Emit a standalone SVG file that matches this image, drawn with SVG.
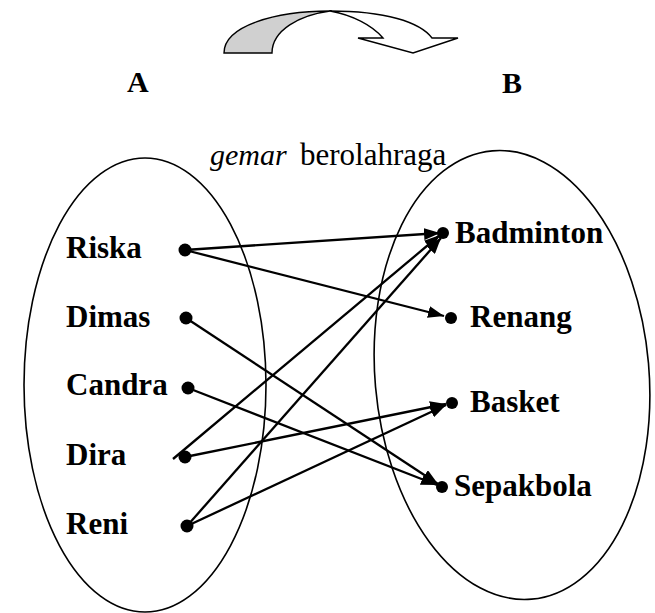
<svg xmlns="http://www.w3.org/2000/svg" width="655" height="613" viewBox="0 0 655 613">
<style>
text{font-family:'Liberation Serif',serif;font-size:30px;fill:#000}
.lbl{font-weight:bold;font-size:31px}
.set{fill:none;stroke:#000;stroke-width:1.6}
.dot{fill:#000}
.con{stroke:#000;stroke-width:2.3;fill:none;marker-end:url(#ah)}
</style>
<defs>
<marker id="ah" markerUnits="userSpaceOnUse" markerWidth="18" markerHeight="12" refX="16" refY="6" orient="auto">
<path d="M0,0 L16,6 L0,12 z" fill="#000"/>
</marker>
</defs>
<rect width="655" height="613" fill="#fff"/>
<g id="curved-arrow">
<path d="M224,53 C224,26 275,11 330,11 C300,15 272,30 272,53 Z" fill="#d0d0d0" stroke="#000" stroke-width="1.4"/>
<path d="M330,11 C385,11 420,22 432,38 L458,38 L413,53 L358,38 L383,38 C372,25 352,15 330,11 Z" fill="#fff" stroke="#000" stroke-width="1.4"/>
</g>
<g id="set-A">
<ellipse class="set" cx="145" cy="385" rx="121" ry="227"/>
<text class="lbl" x="127" y="92" style="font-size:30px">A</text>
</g>
<g id="set-B">
<ellipse class="set" cx="512" cy="375" rx="137" ry="225" transform="rotate(-5 512 375)"/>
<text class="lbl" x="502" y="93" style="font-size:30px">B</text>
</g>
<g id="relation-label">
<text x="210" y="165"><tspan font-style="italic">gemar</tspan><tspan x="300" style="font-size:31px">berolahraga</tspan></text>
</g>
<g id="node-riska"><text class="lbl" x="66" y="258">Riska</text><circle class="dot" cx="185" cy="250" r="6.5"/></g>
<g id="node-dimas"><text class="lbl" x="66" y="327">Dimas</text><circle class="dot" cx="186" cy="318" r="6.5"/></g>
<g id="node-candra"><text class="lbl" x="66" y="395">Candra</text><circle class="dot" cx="188" cy="388" r="6.5"/></g>
<g id="node-dira"><text class="lbl" x="66" y="465">Dira</text><circle class="dot" cx="185" cy="457" r="6.5"/></g>
<g id="node-reni"><text class="lbl" x="66" y="534">Reni</text><circle class="dot" cx="187" cy="526" r="6.5"/></g>
<g id="node-badminton"><circle class="dot" cx="443" cy="233" r="6"/><text class="lbl" x="455" y="243">Badminton</text></g>
<g id="node-renang"><circle class="dot" cx="451" cy="318" r="6"/><text class="lbl" x="470" y="327">Renang</text></g>
<g id="node-basket"><circle class="dot" cx="452" cy="403" r="6"/><text class="lbl" x="470" y="412">Basket</text></g>
<g id="node-sepakbola"><circle class="dot" cx="442" cy="487" r="6"/><text class="lbl" x="454" y="496">Sepakbola</text></g>
<g id="connectors">
<line class="con" x1="185" y1="250" x2="440" y2="233"/>
<line class="con" x1="185" y1="250" x2="444" y2="316"/>
<line class="con" x1="186" y1="318" x2="438" y2="484"/>
<line class="con" x1="188" y1="388" x2="437" y2="485"/>
<line class="con" x1="173" y1="459" x2="440" y2="235"/>
<line class="con" x1="185" y1="457" x2="446" y2="404"/>
<line class="con" x1="187" y1="526" x2="441" y2="238"/>
<line class="con" x1="187" y1="526" x2="446" y2="405"/>
</g>
</svg>
